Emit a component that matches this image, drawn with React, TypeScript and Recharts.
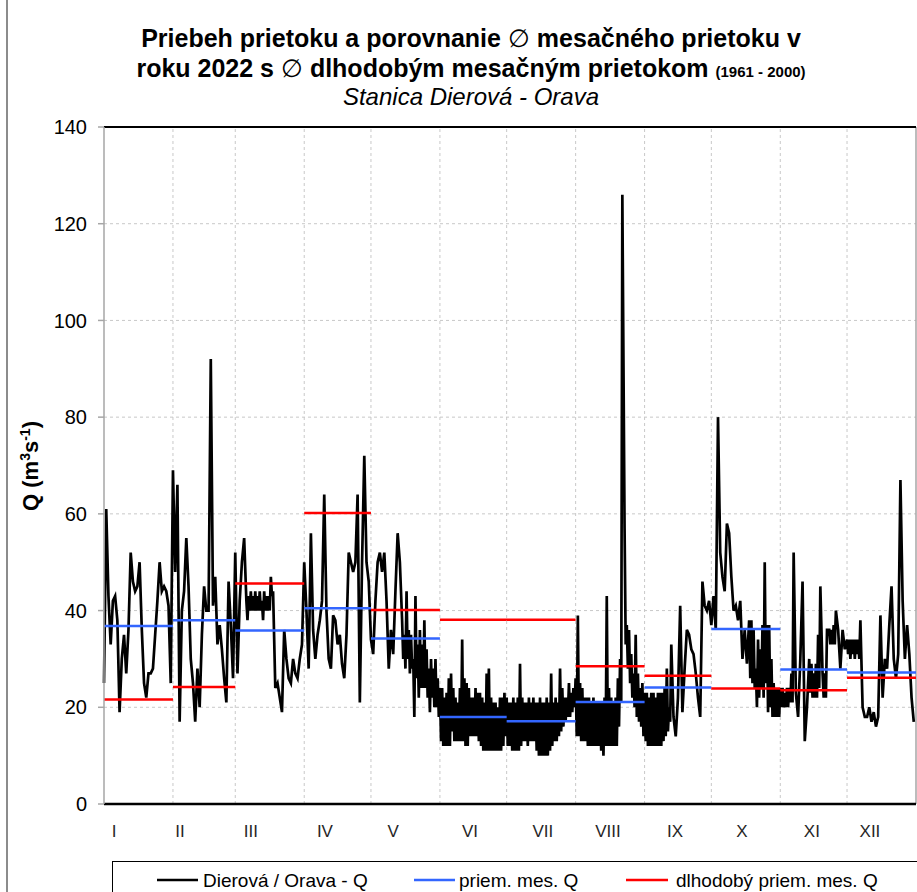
import React from 'react';
import { ComposedChart, Line, XAxis, YAxis, CartesianGrid, ReferenceLine } from 'recharts';

type DayQ = number | [number, number];

// Daily discharge Q (m3/s), one entry per day; [high, low] where the record swings within the day
const jan: DayQ[] = [25, 61, 43, 33, 42, 43, 38, 19, 30, 35, 27, 36, 52, 46, 44, 45, 50, 36, 25, 22, 27, 27, 28, 35, 42, 50, 44, 45, 44, 41, 25];
const feb: DayQ[] = [69, 48, 66, 17, 40, 44, 55, 45, 30, 25, 17, 28, 20, 35, 45, 40, 40, 92, 41, 47, 33, 37, 32, 26, 21, 46, 37, 26];
const mar: DayQ[] = [52, 27, 42, 50, 55, [42, 38], [43, 40], [44, 40], [43, 40], [44, 40], [43, 40], [44, 40], [42, 38], [44, 40], [43, 40], [43, 40], [47, 43], 44, 24, 25, 22, 19, 36, 30, 26, 25, 30, 27, 26, 30, 33];
const apr: DayQ[] = [50, 40, 28, 56, 36, 30, 35, 38, 42, 64, 40, 30, 28, 39, 38, 33, 35, 29, 26, 35, 52, 50, 48, 50, 64, 21, 50, 72, 50, 46];
const may: DayQ[] = [34, 31, 42, 50, 52, 48, 52, 42, 28, 36, 31, 44, 56, 50, [38, 30], [35, 28], [44, 30], [36, 27], [35, 28], [30, 18], [43, 26], [33, 22], [36, 24], [33, 24], [38, 24], [32, 22], [28, 19], [30, 22], [28, 20], [30, 20], [26, 18]];
const jun: DayQ[] = [[24, 13], [24, 12], [22, 12], [23, 12], [26, 12], [27, 15], [24, 13], [22, 13], [21, 13], [24, 13], [34, 13], [26, 12], [25, 12], [24, 14], [22, 14], [22, 14], [24, 14], [23, 13], [23, 12], [22, 11], [21, 11], [27, 11], [28, 11], [22, 11], [21, 11], [21, 11], [20, 11], [22, 11], [22, 12], [23, 14]];
const jul: DayQ[] = [[22, 12], [21, 12], [21, 11], [22, 11], [21, 11], [22, 11], [29, 12], [22, 13], [21, 13], [21, 12], [22, 13], [21, 13], [22, 13], [21, 11], [21, 10], [22, 10], [21, 10], [21, 10], [22, 10], [21, 11], [27, 12], [21, 13], [22, 13], [21, 14], [28, 15], [24, 16], [22, 17], [22, 18], [25, 18], [23, 19], [24, 20]];
const aug: DayQ[] = [[26, 14], [39, 14], [25, 13], [24, 13], [22, 13], [22, 12], [22, 12], [21, 12], [22, 12], [21, 12], [21, 12], [21, 11], [21, 10], [22, 12], [43, 12], [24, 12], [22, 12], [21, 12], [22, 12], [26, 16], [30, 21], 126, [57, 33], [37, 28], [36, 25], [31, 22], [27, 20], [35, 18], [27, 17], [24, 16], [25, 14]];
const sep: DayQ[] = [[23, 13], [23, 12], [22, 12], [23, 12], [23, 12], [22, 12], [23, 12], [23, 12], [23, 13], [24, 14], [28, 15], [20, 17], 33, 18, 14, 22, 41, 19, 28, 36, 35, 32, 31, 27, 22, 18, 46, 41, 40, 42];
const oct: DayQ[] = [37, 43, 36, 80, 52, 47, 44, 58, 56, 47, 40, 41, 38, 42, 30, 36, 29, [38, 26], [38, 25], [36, 24], [28, 20], [34, 22], [32, 24], [37, 22], [50, 25], [37, 19], [37, 20], [30, 18], [25, 18], [24, 18], [24, 18]];
const nov: DayQ[] = [[24, 20], [24, 20], [23, 20], [24, 20], [24, 21], [27, 21], 52, 23, 18, 30, 46, 13, 20, [30, 23], [29, 22], [27, 22], [29, 22], [35, 24], 45, [27, 22], [27, 22], 36, [36, 33], [36, 33], [37, 33], 40, 36, 28, 36, 32];
const dec: DayQ[] = [[34, 31], [34, 30], [34, 31], [34, 30], [34, 31], [34, 30], 38, 20, 18, 18, 20, 17, 19, 16, 18, 39, 22, 30, 28, 37, 45, 30, 26, 31, 67, 42, 30, 37, 31, 22, 17];

const monthStarts = [0, 31, 59, 90, 120, 151, 181, 212, 243, 273, 304, 334, 365];
const monthLabels = ['I', 'II', 'III', 'IV', 'V', 'VI', 'VII', 'VIII', 'IX', 'X', 'XI', 'XII'];
const monthLabelDays = [4.5, 34.2, 66, 99.3, 130, 164.5, 197.3, 226.5, 256.7, 286.8, 318.2, 344.3];
const monthlyMeanQ = [36.8, 38.0, 35.9, 40.5, 34.2, 18.0, 17.1, 21.1, 24.1, 36.2, 27.8, 27.2];
const longTermMeanQ = [21.6, 24.2, 45.6, 60.2, 40.1, 38.1, 38.1, 28.5, 26.5, 23.9, 23.5, 26.1];
const yTicks = [0, 20, 40, 60, 80, 100, 120, 140];

const dailyMonths = [jan, feb, mar, apr, may, jun, jul, aug, sep, oct, nov, dec];

const flowData: { t: number; q: number }[] = [];
dailyMonths.forEach((m, i) =>
  m.forEach((v, k) => {
    const d = monthStarts[i] + k;
    if (Array.isArray(v)) {
      flowData.push({ t: d, q: v[0] });
      flowData.push({ t: d + 0.5, q: v[1] });
    } else {
      flowData.push({ t: d, q: v });
    }
  })
);

function monthSteps(values: number[]) {
  const out: { t: number; v: number | null }[] = [];
  values.forEach((v, i) => {
    out.push({ t: monthStarts[i], v });
    out.push({ t: monthStarts[i + 1], v });
    out.push({ t: monthStarts[i + 1], v: null });
  });
  return out;
}

const meanData = monthSteps(monthlyMeanQ);
const longData = monthSteps(longTermMeanQ);

const FONT = '"Liberation Sans", Arial, sans-serif';
const BLUE = '#3366ff';
const RED = '#ff0000';

export default function App() {
  return (
    <div style={{ position: 'fixed', left: 0, top: 0, width: 917, height: 892, overflow: 'hidden', background: '#fff', fontFamily: FONT }}>
      <div style={{ position: 'absolute', left: 0, top: 0 }}>
        <ComposedChart width={917} height={892} margin={{ top: 127, right: 1, bottom: 48, left: 44 }}>
          <CartesianGrid vertical={false} stroke="#c8c8c8" strokeDasharray="3 3" />
          {monthStarts.slice(1, 12).map((d) => (
            <ReferenceLine key={'g' + d} x={d} stroke="#c8c8c8" strokeDasharray="3 3" />
          ))}
          <ReferenceLine x={365} stroke="#a6a6a6" strokeWidth={1.5} />
          <ReferenceLine y={140} stroke="#000" strokeWidth={2} />
          <XAxis
            type="number"
            dataKey="t"
            domain={[0, 365]}
            ticks={monthLabelDays}
            interval={0}
            tickFormatter={(v: number) => monthLabels[monthLabelDays.indexOf(v)] ?? ''}
            tickLine={false}
            tickSize={0}
            tickMargin={21}
            axisLine={{ stroke: '#000', strokeWidth: 2.5 }}
            tick={{ fontSize: 17, fill: '#262626', fontFamily: FONT }}
            height={40}
          />
          <YAxis
            type="number"
            domain={[0, 140]}
            ticks={yTicks}
            interval={0}
            width={60}
            tickSize={6}
            tickMargin={11}
            axisLine={{ stroke: '#a6a6a6', strokeWidth: 1.5 }}
            tickLine={{ stroke: '#a6a6a6', strokeWidth: 1.5 }}
            tick={{ fontSize: 20, fill: '#000', fontFamily: FONT }}
          />
          <Line data={flowData} dataKey="q" stroke="#000" strokeWidth={2.7} dot={false} isAnimationActive={false} />
          <Line data={meanData} dataKey="v" stroke={BLUE} strokeWidth={2.5} dot={false} isAnimationActive={false} connectNulls={false} />
          <Line data={longData} dataKey="v" stroke={RED} strokeWidth={2.5} dot={false} isAnimationActive={false} connectNulls={false} />
        </ComposedChart>
      </div>
      <svg width={917} height={892} style={{ position: 'absolute', left: 0, top: 0, pointerEvents: 'none' }} fontFamily={FONT}>
        <line x1={7} y1={0} x2={7} y2={892} stroke="#8c8c8c" strokeWidth={2} />
        <text x={471} y={47} textAnchor="middle" fontSize={25} fontWeight="bold" fill="#000">
          Priebeh prietoku a porovnanie <tspan fontWeight="normal">∅</tspan> mesačného prietoku v
        </text>
        <text x={471} y={77} textAnchor="middle" fontSize={25} fontWeight="bold" fill="#000">
          roku 2022 s <tspan fontWeight="normal">∅</tspan> dlhodobým mesačným prietokom <tspan fontSize={15}>(1961 - 2000)</tspan>
        </text>
        <text x={471} y={105} textAnchor="middle" fontSize={24} fontStyle="italic" fill="#000">
          Stanica Dierová - Orava
        </text>
        <text x={38} y={466} transform="rotate(-90, 38, 466)" textAnchor="middle" fontSize={22} fontWeight="bold" fill="#000">
          Q (m<tspan dy={-8} fontSize={14}>3</tspan><tspan dy={8}>s</tspan><tspan dy={-8} fontSize={14}>-1</tspan><tspan dy={8}>)</tspan>
        </text>
        <rect x={112.5} y={861.5} width={900} height={60} fill="none" stroke="#000" strokeWidth={1} />
        <line x1={157} y1={880} x2={198} y2={880} stroke="#000" strokeWidth={2.5} />
        <text x={203} y={887} fontSize={19} fill="#000">Dierová / Orava - Q</text>
        <line x1={414} y1={880} x2={455} y2={880} stroke={BLUE} strokeWidth={2.5} />
        <text x={459} y={887} fontSize={19} fill="#000">priem. mes. Q</text>
        <line x1={626} y1={880} x2={668} y2={880} stroke={RED} strokeWidth={2.5} />
        <text x={676} y={887} fontSize={19} fill="#000">dlhodobý priem. mes. Q</text>
      </svg>
    </div>
  );
}
